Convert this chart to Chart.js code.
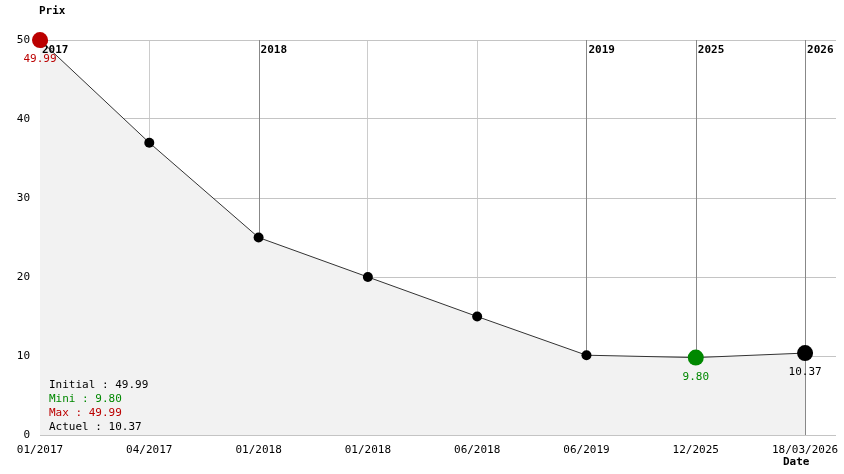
<!DOCTYPE html>
<html><head><meta charset="utf-8">
<script src="https://cdn.jsdelivr.net/npm/chart.js@4"></script>
<style>html,body{margin:0;background:#fff}canvas{display:block}</style>
</head><body>
<div style="width:844px;height:474px"><canvas id="c"></canvas></div>
<script>
const dateLabels = ["01/2017","04/2017","01/2018","01/2018","06/2018","06/2019","12/2025","18/03/2026"];
const prices = [49.99, 37, 25, 20, 15, 10.1, 9.8, 10.37];
const yearMarks = [[0,"2017"],[2,"2018"],[5,"2019"],[6,"2025"],[7,"2026"]];
const yTicks = [0,10,20,30,40,50];
const summary = [["Initial : 49.99","#000"],["Mini : 9.80","#008800"],["Max : 49.99","#bb0000"],["Actuel : 10.37","#000"]];
const minIdx = 6, maxIdx = 0, lastIdx = 7;

const mono = '"DejaVu Sans Mono", monospace';
const yearIdx = yearMarks.map(m => m[0]);

const overlay = {
  id: "overlay",
  beforeDatasetsDraw(chart) {
    const {ctx, chartArea: a, scales: {x}} = chart;
    ctx.save();
    yearIdx.forEach(i => {
      const px = Math.round(x.getPixelForValue(i)) + 0.5;
      ctx.strokeStyle = "#888"; ctx.lineWidth = 1;
      ctx.beginPath(); ctx.moveTo(px, a.top); ctx.lineTo(px, a.bottom); ctx.stroke();
    });
    ctx.restore();
  },
  afterDraw(chart) {
    const {ctx, chartArea: a, scales: {x, y}} = chart;
    ctx.save();
    ctx.font = "11px " + mono; ctx.fillStyle = "#000";
    ctx.textAlign = "right"; ctx.textBaseline = "middle";
    yTicks.forEach(v => ctx.fillText(String(v), 30, y.getPixelForValue(v)));
    ctx.textAlign = "center"; ctx.textBaseline = "top";
    dateLabels.forEach((l, i) => ctx.fillText(l, x.getPixelForValue(i), 445));
    ctx.font = "bold 11px " + mono; ctx.textAlign = "left";
    ctx.fillText("Prix", 39, 6);
    ctx.fillText("Date", 783, 457);
    yearMarks.forEach(([i, t]) => ctx.fillText(t, x.getPixelForValue(i) + 2, 45));
    ctx.font = "11px " + mono;
    summary.forEach(([t, c], k) => { ctx.fillStyle = c; ctx.fillText(t, 49, 380 + k * 14); });
    ctx.textAlign = "center";
    [[maxIdx, "#bb0000"], [minIdx, "#008800"], [lastIdx, "#000"]].forEach(([i, c]) => {
      ctx.fillStyle = c;
      ctx.fillText(prices[i].toFixed(2), x.getPixelForValue(i), y.getPixelForValue(prices[i]) + 14);
    });
    // redraw the max dot above the 2017 label
    ctx.fillStyle = "#bb0000";
    ctx.beginPath(); ctx.arc(x.getPixelForValue(maxIdx), y.getPixelForValue(prices[maxIdx]), 8, 0, Math.PI * 2); ctx.fill();
    ctx.restore();
  }
};

const colors = prices.map((_, i) => i === maxIdx ? "#bb0000" : i === minIdx ? "#008800" : "#000");
const radii = prices.map((_, i) => (i === maxIdx || i === minIdx || i === lastIdx) ? 8 : 5);

new Chart(document.getElementById("c"), {
  type: "line",
  data: {
    datasets: [{
      data: prices.map((p, i) => ({x: i, y: p})),
      borderColor: "#333", borderWidth: 1, tension: 0,
      fill: "origin", backgroundColor: "#f2f2f2",
      pointBackgroundColor: colors, pointBorderColor: colors,
      pointRadius: radii, pointBorderWidth: 0
    }]
  },
  options: {
    responsive: true, maintainAspectRatio: false, animation: false,
    layout: {padding: {left: 40, top: 40, right: 0, bottom: 39}},
    plugins: {legend: {display: false}, tooltip: {enabled: false}},
    scales: {
      x: {
        type: "linear", min: 0, max: 7.283,
        afterBuildTicks: s => { s.ticks = s.ticks.filter(t => Number.isInteger(t.value) && t.value <= 7); },
        afterFit: s => { s.height = 0; },
        ticks: {display: false, stepSize: 1},
        grid: {color: c => yearIdx.includes(c.tick && c.tick.value) ? "rgba(0,0,0,0)" : "#ccc", drawTicks: false},
        border: {display: false}
      },
      y: {
        min: 0, max: 50,
        afterFit: s => { s.width = 0; },
        ticks: {display: false, stepSize: 10},
        grid: {color: "#c4c4c4", drawTicks: false},
        border: {display: false}
      }
    }
  },
  plugins: [overlay]
});
</script>
</body></html>
